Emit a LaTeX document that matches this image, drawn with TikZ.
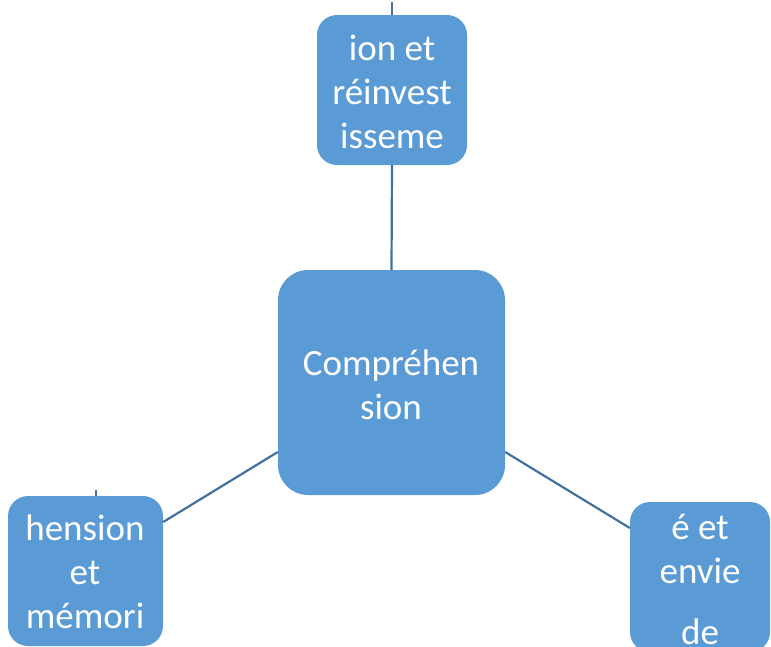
\documentclass[tikz,border=0pt]{standalone}
\usepackage{fontspec}
\setmainfont{Carlito}
\begin{document}
\begin{tikzpicture}[x=1pt,y=-1pt,
  box/.style={draw=none,fill=boxblue,rounded corners=#1,inner sep=0pt},
  box/.default=20pt,
  lbl/.style={text=white,align=center,inner sep=0pt,font=\fontsize{37}{44}\selectfont},
  link/.style={draw=linkblue,line width=2.2pt}]
\definecolor{boxblue}{HTML}{5B9BD5}
\definecolor{linkblue}{HTML}{41719C}
\useasboundingbox (0,0) rectangle (771,646);
% boxes
\node[box=30pt,minimum width=227pt,minimum height=225pt] (c) at (391.5,382.5) {};
\node[box,minimum width=150pt,minimum height=150pt] (t) at (392,90) {};
\node[box,minimum width=155pt,minimum height=150pt] (l) at (85.5,571) {};
\node[box,minimum width=140pt,minimum height=150pt] (r) at (700,577) {};
% connectors
\coordinate (ttick) at (392,2);
\coordinate (ltick) at (96,490);
\draw[link] (t.south) -- (c.north);
\draw[link] (l.east |- 0,522) -- (c.west |- 0,452);
\draw[link] (c.east |- 0,452) -- (r.west |- 0,528);
\draw[link,line width=1.5pt] (ttick) -- (t.north);
\draw[link,line width=1.5pt] (ltick) -- (l.north -| ltick);
% labels
\node[lbl] (ct) at (391,385) {Compréhen\\sion};
\node[lbl] (tt) at (392,92) {ion et\\réinvest\\isseme};
\node[lbl] (lt) at (85,572) {hension\\et\\mémori};
\node[lbl] (rt1) at (700,549) {é et\\envie};
\node[lbl] (rt2) at (700,632) {de};
\end{tikzpicture}
\end{document}
